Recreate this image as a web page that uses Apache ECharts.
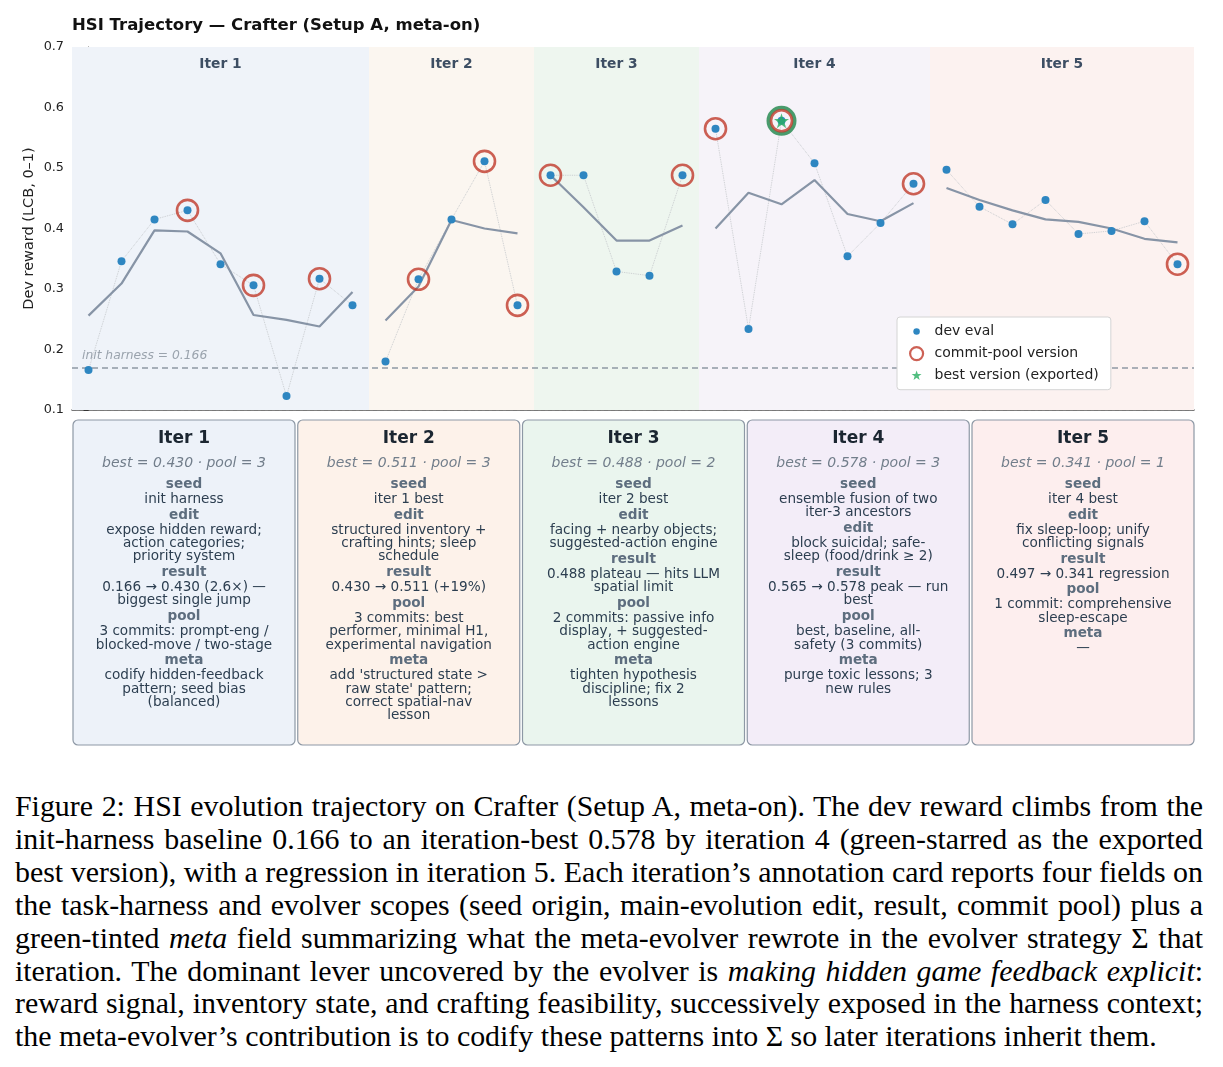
<!DOCTYPE html>
<html>
<head>
<meta charset="utf-8">
<title>HSI Trajectory</title>
<script src="https://cdn.jsdelivr.net/npm/echarts@6/dist/echarts.min.js"></script>
<style>
  html, body { margin: 0; padding: 0; background: #fff; }
  #chart { position: absolute; left: 0; top: 0; width: 1223px; height: 760px; }
  #caption {
    position: absolute; left: 15px; top: 790px; width: 1188px;
    font-family: "Liberation Serif", "Times New Roman", serif;
    font-size: 29.9px; line-height: 32.9px; color: #000;
  }
  #caption div { white-space: nowrap; text-align: justify; text-align-last: justify; }
  #caption div.last { text-align-last: left; }
</style>
</head>
<body>
<div id="chart"></div>
<div id="caption">
  <div>Figure 2: HSI evolution trajectory on Crafter (Setup A, meta-on). The dev reward climbs from the</div>
  <div>init-harness baseline 0.166 to an iteration-best 0.578 by iteration 4 (green-starred as the exported</div>
  <div>best version), with a regression in iteration 5. Each iteration’s annotation card reports four fields on</div>
  <div>the task-harness and evolver scopes (seed origin, main-evolution edit, result, commit pool) plus a</div>
  <div>green-tinted <i>meta</i> field summarizing what the meta-evolver rewrote in the evolver strategy Σ that</div>
  <div>iteration. The dominant lever uncovered by the evolver is <i>making hidden game feedback explicit</i>:</div>
  <div>reward signal, inventory state, and crafting feasibility, successively exposed in the harness context;</div>
  <div class="last">the meta-evolver’s contribution is to codify these patterns into Σ so later iterations inherit them.</div>
</div>
<script>
// --- data ---
const iterNames = ["Iter 1", "Iter 2", "Iter 3", "Iter 4", "Iter 5"];
const iterFirst = [0, 9, 14, 19, 26];
const iterLast = [8, 13, 18, 25, 33];

// dev eval reward per version (x = version index)
const devEval = [
  0.166, 0.346, 0.415, 0.430, 0.341, 0.306, 0.123, 0.317, 0.273,
  0.180, 0.316, 0.415, 0.511, 0.273,
  0.488, 0.488, 0.329, 0.322, 0.488,
  0.565, 0.234, 0.578, 0.508, 0.354, 0.409, 0.474,
  0.497, 0.436, 0.407, 0.447, 0.391, 0.396, 0.412, 0.341
];
// grey trend line per version
const trend = [
  0.256, 0.309, 0.397, 0.395, 0.359, 0.257, 0.249, 0.238, 0.295,
  0.248, 0.304, 0.414, 0.400, 0.392,
  0.488, 0.435, 0.380, 0.380, 0.405,
  0.400, 0.459, 0.440, 0.480, 0.424, 0.412, 0.442,
  0.467, 0.447, 0.430, 0.415, 0.411, 0.400, 0.383, 0.377
];
const poolIdx = [3, 5, 7, 10, 12, 13, 14, 18, 19, 21, 25, 33];
const bestIdx = 21;
const initHarness = 0.166;
const yTicks = [0.1, 0.2, 0.3, 0.4, 0.5, 0.6, 0.7];

// annotation cards
const bestText = [
  "best = 0.430 · pool = 3", "best = 0.511 · pool = 3", "best = 0.488 · pool = 2",
  "best = 0.578 · pool = 3", "best = 0.341 · pool = 1"
];
const seedText = [
  ["init harness"],
  ["iter 1 best"],
  ["iter 2 best"],
  ["ensemble fusion of two", "iter-3 ancestors"],
  ["iter 4 best"]
];
const editText = [
  ["expose hidden reward;", "action categories;", "priority system"],
  ["structured inventory +", "crafting hints; sleep", "schedule"],
  ["facing + nearby objects;", "suggested-action engine"],
  ["block suicidal; safe-", "sleep (food/drink ≥ 2)"],
  ["fix sleep-loop; unify", "conflicting signals"]
];
const resultText = [
  ["0.166 → 0.430 (2.6×) —", "biggest single jump"],
  ["0.430 → 0.511 (+19%)"],
  ["0.488 plateau — hits LLM", "spatial limit"],
  ["0.565 → 0.578 peak — run", "best"],
  ["0.497 → 0.341 regression"]
];
const poolText = [
  ["3 commits: prompt-eng /", "blocked-move / two-stage"],
  ["3 commits: best", "performer, minimal H1,", "experimental navigation"],
  ["2 commits: passive info", "display, + suggested-", "action engine"],
  ["best, baseline, all-", "safety (3 commits)"],
  ["1 commit: comprehensive", "sleep-escape"]
];
const metaText = [
  ["codify hidden-feedback", "pattern; seed bias", "(balanced)"],
  ["add 'structured state >", "raw state' pattern;", "correct spatial-nav", "lesson"],
  ["tighten hypothesis", "discipline; fix 2", "lessons"],
  ["purge toxic lessons; 3", "new rules"],
  ["—"]
];

// --- styles ---
const bandColors = ["#eff3f9", "#fbf6f0", "#eef6ef", "#f6f3f9", "#fcf2f0"];
const cardColors = ["#edf2f9", "#fdf2ea", "#eaf5ee", "#f3edf8", "#fdeeee"];
const FONT = "DejaVu Sans";
const starPath = "path://M50,0L61.2,34.5L97.6,34.5L68.2,55.9L79.4,90.5L50,69.1L20.6,90.5L31.8,55.9L2.4,34.5L38.8,34.5Z";
const starLegend = "path://M0,0M100,100M50,10L59.4,37.1L88,37.6L65.2,55L73.5,82.4L50,66L26.5,82.4L34.8,55L12,37.6L40.6,37.1Z";
const dotLegend = "path://M0,0M20,20M10,5A5,5,0,1,1,9.99,5Z";

const chart = echarts.init(document.getElementById("chart"));

function txt(x, y, text, style) {
  return {
    type: "text", x: x, y: y, z: 20,
    style: Object.assign({ text: text, align: "center", verticalAlign: "middle", fontFamily: FONT, fontSize: 13.6, fill: "#2c3e50" }, style)
  };
}

function buildCards() {
  const els = [];
  const cardTop = 420, cardH = 325, cardW = 222, gap = 2.75, left = 73;
  const fields = [["seed", seedText], ["edit", editText], ["result", resultText], ["pool", poolText], ["meta", metaText]];
  for (let k = 0; k < iterNames.length; k++) {
    const x0 = left + k * (cardW + gap);
    const cx = x0 + cardW / 2;
    els.push({
      type: "rect", z: 10,
      shape: { x: x0, y: cardTop, width: cardW, height: cardH, r: 5 },
      style: { fill: cardColors[k], stroke: "#8d98a5", lineWidth: 1.2 }
    });
    els.push(txt(cx, 439, iterNames[k], { fontSize: 17, fontWeight: "bold", fill: "#1b2631" }));
    els.push(txt(cx, 463, bestText[k], { fontSize: 14, fontStyle: "italic", fill: "#727e8b" }));
    let y = 484.3;
    fields.forEach(([label, arr]) => {
      els.push(txt(cx, y, label, { fontWeight: "bold", fill: "#5d6d7e" }));
      y += 15;
      arr[k].forEach(line => {
        els.push(txt(cx, y, line, {}));
        y += 13.4;
      });
      y += 2.3;
    });
  }
  return els;
}

const series = [];

// dotted connectors + trend line per iteration
for (let k = 0; k < iterNames.length; k++) {
  const pts = [], tr = [];
  for (let i = iterFirst[k]; i <= iterLast[k]; i++) {
    pts.push([i, devEval[i]]);
    tr.push([i, trend[i]]);
  }
  const dotted = {
    type: "line", data: pts, symbol: "none", silent: true, z: 2,
    lineStyle: { color: "#c4c7cb", width: 0.9, type: "dotted" }
  };
  if (k === 0) {
    dotted.markArea = {
      silent: true,
      data: iterNames.map((name, j) => [
        {
          xAxis: iterFirst[j] - 0.5, yAxis: 0.7, name: name,
          itemStyle: { color: bandColors[j] },
          label: { show: true, position: "insideTop", distance: 10.5, color: "#3d4e63", fontWeight: "bold", fontSize: 13.8, fontFamily: FONT }
        },
        { xAxis: iterLast[j] + 0.5, yAxis: 0.1 }
      ])
    };
    dotted.markLine = {
      silent: true, symbol: "none",
      data: [{ yAxis: initHarness }],
      lineStyle: { color: "#8f99a4", width: 1.5, type: [6, 4] },
      label: {
        show: true, position: "insideStartTop", distance: [10, 6],
        formatter: "init harness = " + initHarness.toFixed(3),
        fontStyle: "italic", fontSize: 12.3, color: "#9aa3ad", fontFamily: FONT
      }
    };
  }
  series.push(dotted);
  series.push({
    type: "line", data: tr, symbol: "none", silent: true, z: 3,
    lineStyle: { color: "#8794a6", width: 2.2 }
  });
}

series.push({
  name: "dev eval", type: "scatter", z: 5,
  data: devEval.map((v, i) => [i, v]),
  symbolSize: 8,
  itemStyle: { color: "#2e86c1", opacity: 1 }
});
series.push({
  name: "best ring", type: "scatter", z: 6, silent: true,
  data: [[bestIdx, devEval[bestIdx]]],
  symbolSize: 26,
  itemStyle: { color: "rgba(0,0,0,0)", borderColor: "#1e8449", borderWidth: 4 }
});
series.push({
  name: "commit-pool version", type: "scatter", z: 7,
  data: poolIdx.map(i => [i, devEval[i]]),
  symbolSize: 21,
  itemStyle: { color: "rgba(0,0,0,0)", borderColor: "#c0392b", borderWidth: 2.6 }
});
series.push({
  name: "best version (exported)", type: "scatter", z: 8,
  data: [[bestIdx, devEval[bestIdx]]],
  symbol: starPath, symbolSize: 15,
  itemStyle: { color: "#27ae60" }
});

const option = {
  animation: false,
  textStyle: { fontFamily: FONT },
  title: {
    text: "HSI Trajectory — Crafter (Setup A, meta-on)",
    left: 72, top: 17.5, padding: 0,
    textStyle: { fontSize: 16.5, fontWeight: "bold", color: "#111", fontFamily: FONT }
  },
  legend: {
    orient: "vertical", left: 897, top: 317, z: 20,
    padding: [7.5, 12, 7, 12], itemGap: 7.5,
    itemWidth: 26, itemHeight: 13,
    backgroundColor: "#ffffff",
    borderColor: "#d4d4d4", borderWidth: 1, borderRadius: 3,
    textStyle: { fontSize: 14, color: "#222", fontFamily: FONT },
    data: [
      { name: "dev eval", icon: dotLegend },
      { name: "commit-pool version", icon: "circle", itemStyle: { color: "#fff", borderColor: "#c0392b", borderWidth: 2.2 } },
      { name: "best version (exported)", icon: starLegend }
    ]
  },
  grid: { left: 72, top: 47, width: 1122, height: 363 },
  xAxis: {
    type: "value", min: -0.5, max: 33.5,
    axisLine: { show: true, lineStyle: { color: "#555", width: 1.5 } },
    axisTick: { show: false }, axisLabel: { show: false }, splitLine: { show: false }
  },
  yAxis: {
    type: "value", min: yTicks[0], max: yTicks[yTicks.length - 1], interval: 0.1,
    name: "Dev reward (LCB, 0–1)", nameLocation: "middle", nameGap: 35, nameMoveOverlap: false,
    nameTextStyle: { fontSize: 14.5, color: "#222", fontFamily: FONT },
    axisLine: { show: true, lineStyle: { color: "#333", width: 1.2 } },
    axisTick: { show: true, length: 5, lineStyle: { color: "#333" } },
    axisLabel: { formatter: v => v.toFixed(1), fontSize: 12.8, color: "#222", margin: 8 },
    splitLine: { show: true, lineStyle: { color: "#dcdcdc", width: 0.8, type: [4, 3] } }
  },
  graphic: buildCards(),
  series: series
};

chart.setOption(option);
</script>
</body>
</html>
